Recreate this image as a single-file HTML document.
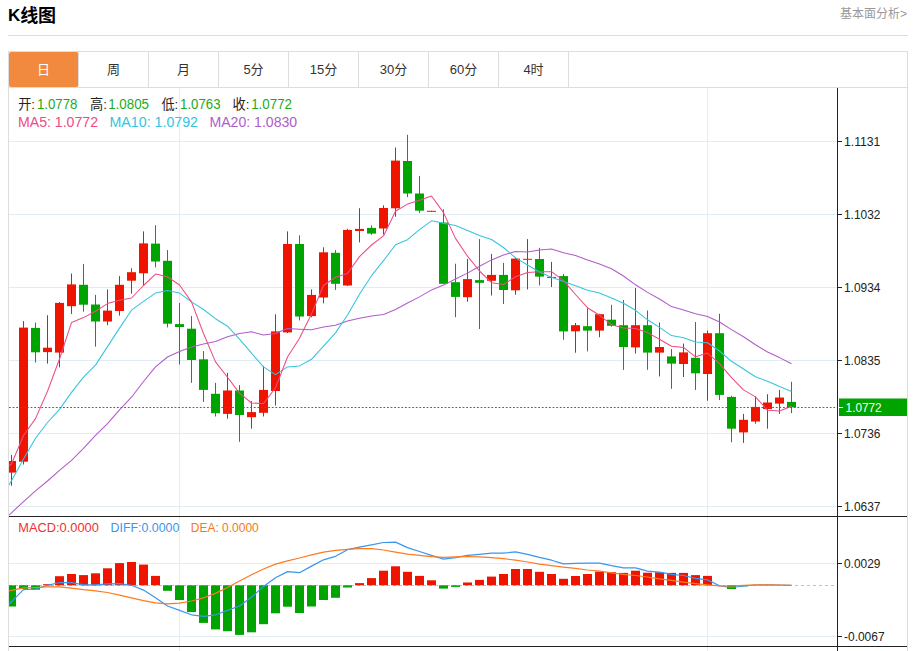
<!DOCTYPE html>
<html lang="zh-CN"><head><meta charset="utf-8"><title>K线图</title>
<style>
html,body{margin:0;padding:0;background:#fff;}
body{width:916px;height:651px;position:relative;overflow:hidden;font-family:"Liberation Sans","Noto Sans CJK SC",sans-serif;color:#333;}
.title{position:absolute;left:8px;top:4px;font-size:18px;line-height:24px;font-weight:bold;color:#000;letter-spacing:-0.1px;}
.more{position:absolute;right:9px;top:6px;font-size:12px;line-height:16px;color:#999;}
.hr{position:absolute;left:8px;top:35px;width:900px;height:1px;background:#ddd;}
.tabs{position:absolute;left:8px;top:51px;width:898px;height:35px;border:1px solid #ddd;background:#fff;}
.tabs span{position:absolute;top:0;height:35px;width:69px;border-right:1px solid #ddd;text-align:center;font-size:13px;line-height:35px;color:#333;}
.tabs span.on{background:#f18a3e;color:#fff;border-radius:2px;}
.chart{position:absolute;left:0;top:88px;}
</style></head><body>
<div class="title"><span style="font-size:17px;position:relative;top:-1px">K</span>线图</div>
<div class="more">基本面分析&gt;</div>
<div class="hr"></div>
<div class="tabs">
<span style="left:0px" class=on>日</span>
<span style="left:70px">周</span>
<span style="left:140px">月</span>
<span style="left:210px">5分</span>
<span style="left:280px">15分</span>
<span style="left:350px">30分</span>
<span style="left:420px">60分</span>
<span style="left:490px">4时</span>
</div>
<svg class="chart" width="916" height="563" viewBox="0 88 916 563" font-family="Liberation Sans, Noto Sans CJK SC, sans-serif">
<defs><clipPath id="cm"><rect x="9" y="88" width="828" height="428"/></clipPath><clipPath id="cd"><rect x="9" y="517" width="828" height="129"/></clipPath></defs>
<g shape-rendering="crispEdges">
<rect x="8" y="88" width="1" height="563" fill="#ddd"/><rect x="907" y="88" width="1" height="563" fill="#ddd"/>
<rect x="9" y="141" width="828" height="1" fill="#e1ecf3"/>
<rect x="9" y="214" width="828" height="1" fill="#e1ecf3"/>
<rect x="9" y="287" width="828" height="1" fill="#e1ecf3"/>
<rect x="9" y="360" width="828" height="1" fill="#e1ecf3"/>
<rect x="9" y="433" width="828" height="1" fill="#e1ecf3"/>
<rect x="9" y="506" width="828" height="1" fill="#e1ecf3"/>
<rect x="9" y="563" width="828" height="1" fill="#e1ecf3"/>
<rect x="9" y="636" width="828" height="1" fill="#e1ecf3"/>
<rect x="179" y="88" width="1" height="563" fill="#e1ecf3"/>
<rect x="707" y="88" width="1" height="563" fill="#e1ecf3"/>
</g>
<line x1="9" y1="585.5" x2="837" y2="585.5" stroke="#8fd0f0" stroke-width="1" stroke-dasharray="3,3" shape-rendering="crispEdges"/>
<g clip-path="url(#cd)">
<rect x="7" y="585.3" width="9" height="21.2" fill="#00a400"/>
<rect x="19" y="585.3" width="9" height="3.7" fill="#00a400"/>
<rect x="31" y="585.3" width="9" height="4.4" fill="#00a400"/>
<rect x="43" y="584.2" width="9" height="1.1" fill="#ef1400"/>
<rect x="55" y="576.2" width="9" height="9.1" fill="#ef1400"/>
<rect x="67" y="574.0" width="9" height="11.3" fill="#ef1400"/>
<rect x="79" y="575.1" width="9" height="10.2" fill="#ef1400"/>
<rect x="91" y="573.3" width="9" height="12.0" fill="#ef1400"/>
<rect x="103" y="568.3" width="9" height="17.0" fill="#ef1400"/>
<rect x="115" y="563.1" width="9" height="22.2" fill="#ef1400"/>
<rect x="127" y="562.0" width="9" height="23.3" fill="#ef1400"/>
<rect x="139" y="564.6" width="9" height="20.7" fill="#ef1400"/>
<rect x="151" y="575.9" width="9" height="9.4" fill="#ef1400"/>
<rect x="163" y="585.3" width="9" height="5.5" fill="#00a400"/>
<rect x="175" y="585.3" width="9" height="14.7" fill="#00a400"/>
<rect x="187" y="585.3" width="9" height="26.8" fill="#00a400"/>
<rect x="199" y="585.3" width="9" height="37.6" fill="#00a400"/>
<rect x="211" y="585.3" width="9" height="44.1" fill="#00a400"/>
<rect x="223" y="585.3" width="9" height="45.9" fill="#00a400"/>
<rect x="235" y="585.3" width="9" height="49.6" fill="#00a400"/>
<rect x="247" y="585.3" width="9" height="47.0" fill="#00a400"/>
<rect x="259" y="585.3" width="9" height="38.9" fill="#00a400"/>
<rect x="271" y="585.3" width="9" height="28.0" fill="#00a400"/>
<rect x="283" y="585.3" width="9" height="21.4" fill="#00a400"/>
<rect x="295" y="585.3" width="9" height="27.7" fill="#00a400"/>
<rect x="307" y="585.3" width="9" height="21.2" fill="#00a400"/>
<rect x="319" y="585.3" width="9" height="14.7" fill="#00a400"/>
<rect x="331" y="585.3" width="9" height="12.5" fill="#00a400"/>
<rect x="343" y="585.3" width="9" height="2.2" fill="#00a400"/>
<rect x="355" y="583.1" width="9" height="2.2" fill="#ef1400"/>
<rect x="367" y="578.1" width="9" height="7.2" fill="#ef1400"/>
<rect x="379" y="570.7" width="9" height="14.6" fill="#ef1400"/>
<rect x="391" y="566.3" width="9" height="19.0" fill="#ef1400"/>
<rect x="403" y="571.8" width="9" height="13.5" fill="#ef1400"/>
<rect x="415" y="575.9" width="9" height="9.4" fill="#ef1400"/>
<rect x="427" y="580.3" width="9" height="5.0" fill="#ef1400"/>
<rect x="439" y="585.3" width="9" height="3.3" fill="#00a400"/>
<rect x="451" y="585.3" width="9" height="1.6" fill="#00a400"/>
<rect x="463" y="582.5" width="9" height="2.8" fill="#ef1400"/>
<rect x="475" y="579.9" width="9" height="5.4" fill="#ef1400"/>
<rect x="487" y="576.6" width="9" height="8.7" fill="#ef1400"/>
<rect x="499" y="574.0" width="9" height="11.3" fill="#ef1400"/>
<rect x="511" y="569.0" width="9" height="16.3" fill="#ef1400"/>
<rect x="523" y="569.0" width="9" height="16.3" fill="#ef1400"/>
<rect x="535" y="571.8" width="9" height="13.5" fill="#ef1400"/>
<rect x="547" y="574.0" width="9" height="11.3" fill="#ef1400"/>
<rect x="559" y="578.8" width="9" height="6.5" fill="#ef1400"/>
<rect x="571" y="576.0" width="9" height="9.3" fill="#ef1400"/>
<rect x="583" y="574.0" width="9" height="11.3" fill="#ef1400"/>
<rect x="595" y="571.6" width="9" height="13.7" fill="#ef1400"/>
<rect x="607" y="572.2" width="9" height="13.1" fill="#ef1400"/>
<rect x="619" y="572.9" width="9" height="12.4" fill="#ef1400"/>
<rect x="631" y="570.7" width="9" height="14.6" fill="#ef1400"/>
<rect x="643" y="572.7" width="9" height="12.6" fill="#ef1400"/>
<rect x="655" y="572.2" width="9" height="13.1" fill="#ef1400"/>
<rect x="667" y="572.9" width="9" height="12.4" fill="#ef1400"/>
<rect x="679" y="572.9" width="9" height="12.4" fill="#ef1400"/>
<rect x="691" y="575.1" width="9" height="10.2" fill="#ef1400"/>
<rect x="703" y="575.9" width="9" height="9.4" fill="#ef1400"/>
<rect x="727" y="585.3" width="9" height="3.7" fill="#00a400"/>
<rect x="739" y="585.3" width="9" height="1.1" fill="#00a400"/>
</g>
<g clip-path="url(#cm)">
<rect x="11" y="455.0" width="1" height="30.7" fill="#ef1400"/>
<rect x="7" y="461.0" width="9" height="11.6" fill="#ef1400"/>
<rect x="23" y="321.1" width="1" height="143.4" fill="#ef1400"/>
<rect x="19" y="327.6" width="9" height="134.1" fill="#ef1400"/>
<rect x="35" y="322.6" width="1" height="39.9" fill="#00a400"/>
<rect x="31" y="327.9" width="9" height="24.4" fill="#00a400"/>
<rect x="47" y="315.2" width="1" height="48.4" fill="#ef1400"/>
<rect x="43" y="347.7" width="9" height="4.4" fill="#ef1400"/>
<rect x="59" y="302.0" width="1" height="65.3" fill="#ef1400"/>
<rect x="55" y="302.9" width="9" height="49.7" fill="#ef1400"/>
<rect x="71" y="273.5" width="1" height="40.4" fill="#ef1400"/>
<rect x="67" y="284.4" width="9" height="21.8" fill="#ef1400"/>
<rect x="83" y="263.9" width="1" height="47.8" fill="#00a400"/>
<rect x="79" y="284.8" width="9" height="19.9" fill="#00a400"/>
<rect x="95" y="294.9" width="1" height="51.7" fill="#00a400"/>
<rect x="91" y="304.5" width="9" height="17.0" fill="#00a400"/>
<rect x="107" y="289.4" width="1" height="35.8" fill="#ef1400"/>
<rect x="103" y="310.6" width="9" height="10.9" fill="#ef1400"/>
<rect x="119" y="276.1" width="1" height="39.5" fill="#ef1400"/>
<rect x="115" y="284.8" width="9" height="26.2" fill="#ef1400"/>
<rect x="131" y="268.3" width="1" height="25.3" fill="#ef1400"/>
<rect x="127" y="272.2" width="9" height="8.5" fill="#ef1400"/>
<rect x="143" y="231.4" width="1" height="54.1" fill="#ef1400"/>
<rect x="139" y="243.4" width="9" height="29.9" fill="#ef1400"/>
<rect x="155" y="225.2" width="1" height="42.2" fill="#00a400"/>
<rect x="151" y="243.6" width="9" height="17.9" fill="#00a400"/>
<rect x="167" y="250.1" width="1" height="77.3" fill="#00a400"/>
<rect x="163" y="260.8" width="9" height="62.9" fill="#00a400"/>
<rect x="179" y="303.0" width="1" height="61.5" fill="#00a400"/>
<rect x="175" y="324.1" width="9" height="2.9" fill="#00a400"/>
<rect x="191" y="316.1" width="1" height="66.7" fill="#00a400"/>
<rect x="187" y="328.7" width="9" height="31.3" fill="#00a400"/>
<rect x="203" y="351.1" width="1" height="50.8" fill="#00a400"/>
<rect x="199" y="359.3" width="9" height="30.6" fill="#00a400"/>
<rect x="215" y="382.9" width="1" height="33.6" fill="#00a400"/>
<rect x="211" y="393.8" width="9" height="19.4" fill="#00a400"/>
<rect x="227" y="372.8" width="1" height="45.9" fill="#ef1400"/>
<rect x="223" y="390.5" width="9" height="23.4" fill="#ef1400"/>
<rect x="239" y="385.1" width="1" height="56.7" fill="#00a400"/>
<rect x="235" y="390.5" width="9" height="24.5" fill="#00a400"/>
<rect x="251" y="401.2" width="1" height="27.5" fill="#ef1400"/>
<rect x="247" y="412.1" width="9" height="5.1" fill="#ef1400"/>
<rect x="263" y="365.9" width="1" height="50.6" fill="#ef1400"/>
<rect x="259" y="389.9" width="9" height="22.9" fill="#ef1400"/>
<rect x="275" y="314.3" width="1" height="91.3" fill="#ef1400"/>
<rect x="271" y="331.4" width="9" height="59.6" fill="#ef1400"/>
<rect x="287" y="231.4" width="1" height="101.7" fill="#ef1400"/>
<rect x="283" y="244.0" width="9" height="88.4" fill="#ef1400"/>
<rect x="299" y="235.3" width="1" height="85.1" fill="#00a400"/>
<rect x="295" y="244.0" width="9" height="72.5" fill="#00a400"/>
<rect x="311" y="289.4" width="1" height="27.8" fill="#ef1400"/>
<rect x="307" y="294.9" width="9" height="21.2" fill="#ef1400"/>
<rect x="323" y="247.3" width="1" height="56.1" fill="#ef1400"/>
<rect x="319" y="252.3" width="9" height="45.2" fill="#ef1400"/>
<rect x="335" y="250.1" width="1" height="39.8" fill="#00a400"/>
<rect x="331" y="252.8" width="9" height="31.0" fill="#00a400"/>
<rect x="347" y="228.8" width="1" height="57.2" fill="#ef1400"/>
<rect x="343" y="229.9" width="9" height="55.6" fill="#ef1400"/>
<rect x="359" y="208.2" width="1" height="34.2" fill="#ef1400"/>
<rect x="355" y="228.9" width="9" height="2.1" fill="#ef1400"/>
<rect x="371" y="225.4" width="1" height="9.4" fill="#00a400"/>
<rect x="367" y="227.9" width="9" height="5.7" fill="#00a400"/>
<rect x="383" y="205.3" width="1" height="29.2" fill="#ef1400"/>
<rect x="379" y="208.0" width="9" height="20.5" fill="#ef1400"/>
<rect x="395" y="147.5" width="1" height="69.2" fill="#ef1400"/>
<rect x="391" y="160.6" width="9" height="47.7" fill="#ef1400"/>
<rect x="407" y="134.8" width="1" height="62.3" fill="#00a400"/>
<rect x="403" y="161.0" width="9" height="32.5" fill="#00a400"/>
<rect x="419" y="175.9" width="1" height="37.0" fill="#00a400"/>
<rect x="415" y="193.5" width="9" height="17.2" fill="#00a400"/>
<rect x="431" y="210.8" width="1" height="1.0" fill="#ef1400"/>
<rect x="427" y="210.8" width="9" height="1.0" fill="#ef1400"/>
<rect x="443" y="209.3" width="1" height="74.5" fill="#00a400"/>
<rect x="439" y="222.5" width="9" height="61.3" fill="#00a400"/>
<rect x="455" y="263.7" width="1" height="53.5" fill="#00a400"/>
<rect x="451" y="282.2" width="9" height="14.7" fill="#00a400"/>
<rect x="467" y="258.9" width="1" height="42.8" fill="#ef1400"/>
<rect x="463" y="279.1" width="9" height="18.1" fill="#ef1400"/>
<rect x="479" y="239.1" width="1" height="89.9" fill="#00a400"/>
<rect x="475" y="280.1" width="9" height="2.7" fill="#00a400"/>
<rect x="491" y="253.9" width="1" height="41.6" fill="#ef1400"/>
<rect x="487" y="274.9" width="9" height="5.9" fill="#ef1400"/>
<rect x="503" y="262.8" width="1" height="41.2" fill="#00a400"/>
<rect x="499" y="274.9" width="9" height="15.1" fill="#00a400"/>
<rect x="515" y="257.5" width="1" height="37.2" fill="#ef1400"/>
<rect x="511" y="258.6" width="9" height="31.7" fill="#ef1400"/>
<rect x="527" y="239.1" width="1" height="50.3" fill="#ef1400"/>
<rect x="523" y="258.8" width="9" height="1.0" fill="#ef1400"/>
<rect x="539" y="247.8" width="1" height="37.6" fill="#00a400"/>
<rect x="535" y="259.0" width="9" height="17.6" fill="#00a400"/>
<rect x="551" y="261.9" width="1" height="25.1" fill="#ef1400"/>
<rect x="547" y="276.9" width="9" height="1.0" fill="#ef1400"/>
<rect x="563" y="273.9" width="1" height="65.8" fill="#00a400"/>
<rect x="559" y="276.1" width="9" height="55.3" fill="#00a400"/>
<rect x="575" y="323.0" width="1" height="29.7" fill="#ef1400"/>
<rect x="571" y="325.2" width="9" height="6.1" fill="#ef1400"/>
<rect x="587" y="308.1" width="1" height="43.3" fill="#00a400"/>
<rect x="583" y="326.2" width="9" height="4.4" fill="#00a400"/>
<rect x="599" y="313.8" width="1" height="23.4" fill="#ef1400"/>
<rect x="595" y="314.2" width="9" height="16.4" fill="#ef1400"/>
<rect x="611" y="304.8" width="1" height="21.9" fill="#00a400"/>
<rect x="607" y="319.7" width="9" height="6.1" fill="#00a400"/>
<rect x="623" y="300.0" width="1" height="69.9" fill="#00a400"/>
<rect x="619" y="325.2" width="9" height="21.8" fill="#00a400"/>
<rect x="635" y="288.0" width="1" height="65.5" fill="#ef1400"/>
<rect x="631" y="325.2" width="9" height="22.2" fill="#ef1400"/>
<rect x="647" y="310.5" width="1" height="59.3" fill="#00a400"/>
<rect x="643" y="325.2" width="9" height="27.4" fill="#00a400"/>
<rect x="659" y="322.6" width="1" height="53.8" fill="#ef1400"/>
<rect x="655" y="347.0" width="9" height="5.6" fill="#ef1400"/>
<rect x="671" y="349.0" width="1" height="39.8" fill="#00a400"/>
<rect x="667" y="356.4" width="9" height="7.2" fill="#00a400"/>
<rect x="683" y="343.6" width="1" height="33.4" fill="#ef1400"/>
<rect x="679" y="352.4" width="9" height="11.6" fill="#ef1400"/>
<rect x="695" y="322.0" width="1" height="67.9" fill="#00a400"/>
<rect x="691" y="357.8" width="9" height="15.5" fill="#00a400"/>
<rect x="707" y="330.5" width="1" height="70.3" fill="#ef1400"/>
<rect x="703" y="333.2" width="9" height="40.8" fill="#ef1400"/>
<rect x="719" y="313.8" width="1" height="86.3" fill="#00a400"/>
<rect x="715" y="333.2" width="9" height="61.7" fill="#00a400"/>
<rect x="731" y="395.8" width="1" height="46.5" fill="#00a400"/>
<rect x="727" y="396.9" width="9" height="31.8" fill="#00a400"/>
<rect x="743" y="413.9" width="1" height="29.0" fill="#ef1400"/>
<rect x="739" y="419.8" width="9" height="12.6" fill="#ef1400"/>
<rect x="755" y="396.4" width="1" height="27.3" fill="#ef1400"/>
<rect x="751" y="406.9" width="9" height="14.6" fill="#ef1400"/>
<rect x="767" y="394.2" width="1" height="34.5" fill="#ef1400"/>
<rect x="763" y="402.5" width="9" height="6.6" fill="#ef1400"/>
<rect x="779" y="389.9" width="1" height="24.0" fill="#ef1400"/>
<rect x="775" y="397.5" width="9" height="6.1" fill="#ef1400"/>
<rect x="791" y="381.8" width="1" height="31.4" fill="#00a400"/>
<rect x="787" y="401.9" width="9" height="5.4" fill="#00a400"/>
</g>
<polyline points="-0.5,524.0 11.5,512.8 23.5,501.6 35.5,490.9 47.5,481.0 59.5,470.4 71.5,460.3 83.5,448.3 95.5,435.4 107.5,423.6 119.5,409.9 131.5,397.2 143.5,381.5 155.5,366.9 167.5,357.0 179.5,351.4 191.5,346.9 203.5,344.0 215.5,341.6 227.5,336.8 239.5,333.5 251.5,331.8 263.5,335.1 275.5,333.5 287.5,328.5 299.5,329.2 311.5,329.8 323.5,327.0 335.5,325.2 347.5,320.9 359.5,318.3 371.5,316.1 383.5,314.4 395.5,309.5 407.5,303.0 419.5,296.9 431.5,289.9 443.5,285.1 455.5,279.0 467.5,273.1 479.5,266.2 491.5,259.9 503.5,254.9 515.5,251.4 527.5,251.9 539.5,249.9 551.5,249.0 563.5,252.8 575.5,255.4 587.5,260.1 599.5,264.0 611.5,268.8 623.5,276.0 635.5,284.8 647.5,292.4 659.5,299.0 671.5,306.6 683.5,309.9 695.5,313.8 707.5,316.4 719.5,322.0 731.5,329.6 743.5,336.8 755.5,344.8 767.5,352.0 779.5,357.6 791.5,363.7" fill="none" stroke="#b05cc8" stroke-width="1.05" stroke-linejoin="round" clip-path="url(#cm)"/>
<polyline points="-0.5,500.0 11.5,480.8 23.5,459.0 35.5,438.3 47.5,422.5 59.5,409.4 71.5,392.4 83.5,377.1 95.5,365.1 107.5,346.6 119.5,328.1 131.5,310.2 143.5,301.4 155.5,293.1 167.5,290.5 179.5,293.1 191.5,301.9 203.5,309.5 215.5,318.7 227.5,326.2 239.5,339.1 251.5,353.2 263.5,366.9 275.5,374.6 287.5,366.9 299.5,365.9 311.5,359.3 323.5,346.1 335.5,332.9 347.5,315.0 359.5,294.2 371.5,275.7 383.5,260.7 395.5,244.7 407.5,239.7 419.5,229.6 431.5,220.8 443.5,223.3 455.5,225.4 467.5,230.5 479.5,235.6 491.5,239.5 503.5,247.5 515.5,257.9 527.5,265.0 539.5,272.0 551.5,277.2 563.5,281.6 575.5,285.7 587.5,290.2 599.5,293.1 611.5,297.9 623.5,303.3 635.5,310.3 647.5,319.8 659.5,327.4 671.5,335.6 683.5,337.7 695.5,342.1 707.5,342.8 719.5,351.0 731.5,361.3 743.5,369.0 755.5,376.8 767.5,381.3 779.5,386.6 791.5,391.4" fill="none" stroke="#35c4de" stroke-width="1.05" stroke-linejoin="round" clip-path="url(#cm)"/>
<polyline points="-0.5,472.4 11.5,464.0 23.5,435.5 35.5,418.6 47.5,391.3 59.5,359.0 71.5,322.6 83.5,317.6 95.5,311.3 107.5,303.6 119.5,300.3 131.5,298.0 143.5,285.5 155.5,274.1 167.5,276.8 179.5,285.0 191.5,301.9 203.5,333.5 215.5,361.9 227.5,377.2 239.5,393.1 251.5,403.0 263.5,403.6 275.5,387.7 287.5,357.0 299.5,338.2 311.5,313.9 323.5,285.5 335.5,277.2 347.5,273.5 359.5,256.6 371.5,245.0 383.5,235.9 395.5,211.2 407.5,204.1 419.5,200.3 431.5,196.0 443.5,212.6 455.5,238.4 467.5,256.2 479.5,271.0 491.5,282.7 503.5,284.4 515.5,276.8 527.5,272.4 539.5,271.7 551.5,271.7 563.5,280.7 575.5,294.5 587.5,307.7 599.5,315.3 611.5,324.7 623.5,328.0 635.5,328.4 647.5,332.6 659.5,339.2 671.5,346.2 683.5,347.4 695.5,356.8 707.5,353.1 719.5,363.7 731.5,377.7 743.5,389.9 755.5,396.9 767.5,410.2 779.5,411.0 791.5,406.2" fill="none" stroke="#ee4c84" stroke-width="1.05" stroke-linejoin="round" clip-path="url(#cm)"/>
<polyline points="-0.5,612.0 11.5,601.7 23.5,589.7 35.5,589.0 47.5,585.3 59.5,582.5 71.5,582.7 83.5,584.9 95.5,584.9 107.5,583.8 119.5,583.6 131.5,585.3 143.5,590.1 155.5,597.8 167.5,606.0 179.5,610.4 191.5,614.8 203.5,616.3 215.5,614.8 227.5,610.4 239.5,606.0 251.5,597.3 263.5,586.4 275.5,577.7 287.5,571.6 299.5,572.7 311.5,566.1 323.5,559.8 335.5,556.3 347.5,549.7 359.5,547.1 371.5,544.9 383.5,542.5 395.5,542.1 407.5,547.6 419.5,551.5 431.5,555.4 443.5,559.1 455.5,557.6 467.5,555.4 479.5,554.3 491.5,553.2 503.5,553.2 515.5,551.9 527.5,554.3 539.5,557.4 551.5,560.2 563.5,563.9 575.5,563.3 587.5,563.1 599.5,563.1 611.5,565.7 623.5,567.9 635.5,567.9 647.5,571.1 659.5,572.2 671.5,574.4 683.5,575.5 695.5,578.3 707.5,579.9 719.5,585.8 731.5,587.5 743.5,586.0 755.5,585.0 767.5,584.8 779.5,585.0 791.5,585.3" fill="none" stroke="#3a96ee" stroke-width="1.2" stroke-linejoin="round" clip-path="url(#cd)"/>
<polyline points="-0.5,592.0 11.5,590.3 23.5,587.9 35.5,587.5 47.5,586.9 59.5,586.9 71.5,588.2 83.5,589.7 95.5,590.8 107.5,592.5 119.5,595.2 131.5,597.8 143.5,600.6 155.5,602.8 167.5,603.9 179.5,603.2 191.5,601.0 203.5,597.8 215.5,593.4 227.5,587.5 239.5,581.0 251.5,574.8 263.5,569.0 275.5,564.1 287.5,560.9 299.5,558.0 311.5,554.8 323.5,552.1 335.5,550.4 347.5,549.3 359.5,548.6 371.5,548.6 383.5,550.0 395.5,552.1 407.5,554.1 419.5,555.4 431.5,556.7 443.5,557.4 455.5,556.9 467.5,556.5 479.5,556.9 491.5,557.6 503.5,558.7 515.5,560.2 527.5,562.0 539.5,564.1 551.5,565.7 563.5,567.2 575.5,568.4 587.5,570.0 599.5,571.1 611.5,572.9 623.5,574.4 635.5,575.5 647.5,577.0 659.5,578.8 671.5,580.3 683.5,582.1 695.5,583.6 707.5,584.9 719.5,585.8 731.5,586.0 743.5,585.3 755.5,584.9 767.5,584.9 779.5,585.0 791.5,585.3" fill="none" stroke="#ff7a1e" stroke-width="1.2" stroke-linejoin="round" clip-path="url(#cd)"/>
<line x1="9" y1="407.5" x2="837" y2="407.5" stroke="#00a400" stroke-width="1" stroke-dasharray="1.8,1.8"/>
<g shape-rendering="crispEdges" fill="#222">
<rect x="837" y="88" width="1" height="563"/>
<rect x="9" y="516" width="898" height="1"/>
<rect x="9" y="646" width="898" height="1"/>
<rect x="838" y="141" width="4" height="1"/>
<rect x="838" y="214" width="4" height="1"/>
<rect x="838" y="287" width="4" height="1"/>
<rect x="838" y="360" width="4" height="1"/>
<rect x="838" y="433" width="4" height="1"/>
<rect x="838" y="506" width="4" height="1"/>
<rect x="838" y="563" width="4" height="1"/>
<rect x="838" y="636" width="4" height="1"/>
</g>
<text x="844" y="145.6" font-size="12.5" fill="#222" textLength="36.4" lengthAdjust="spacingAndGlyphs">1.1131</text>
<text x="844" y="218.6" font-size="12.5" fill="#222" textLength="36.4" lengthAdjust="spacingAndGlyphs">1.1032</text>
<text x="844" y="291.6" font-size="12.5" fill="#222" textLength="36.4" lengthAdjust="spacingAndGlyphs">1.0934</text>
<text x="844" y="364.6" font-size="12.5" fill="#222" textLength="36.4" lengthAdjust="spacingAndGlyphs">1.0835</text>
<text x="844" y="437.6" font-size="12.5" fill="#222" textLength="36.4" lengthAdjust="spacingAndGlyphs">1.0736</text>
<text x="844" y="510.6" font-size="12.5" fill="#222" textLength="36.4" lengthAdjust="spacingAndGlyphs">1.0637</text>
<text x="844" y="567.6" font-size="12.5" fill="#222" textLength="36.4" lengthAdjust="spacingAndGlyphs">0.0029</text>
<text x="844" y="640.6" font-size="12.5" fill="#222" textLength="40.6" lengthAdjust="spacingAndGlyphs">-0.0067</text>
<rect x="839" y="398.5" width="68" height="17.5" fill="#00a400"/>
<rect x="839" y="407" width="4" height="1" fill="#fff" shape-rendering="crispEdges"/>
<text x="845.6" y="412.1" font-size="12.5" fill="#fff" textLength="36" lengthAdjust="spacingAndGlyphs">1.0772</text>
<text x="18.2" y="108.5" font-size="13.5" fill="#222" textLength="16.8" lengthAdjust="spacingAndGlyphs">开:</text>
<text x="37.0" y="108.5" font-size="14" fill="#1aab1a" textLength="40.4" lengthAdjust="spacingAndGlyphs">1.0778</text>
<text x="90.0" y="108.5" font-size="13.5" fill="#222" textLength="16.8" lengthAdjust="spacingAndGlyphs">高:</text>
<text x="108.2" y="108.5" font-size="14" fill="#1aab1a" textLength="40.8" lengthAdjust="spacingAndGlyphs">1.0805</text>
<text x="161.4" y="108.5" font-size="13.5" fill="#222" textLength="16.8" lengthAdjust="spacingAndGlyphs">低:</text>
<text x="180.1" y="108.5" font-size="14" fill="#1aab1a" textLength="40.4" lengthAdjust="spacingAndGlyphs">1.0763</text>
<text x="232.5" y="108.5" font-size="13.5" fill="#222" textLength="16.8" lengthAdjust="spacingAndGlyphs">收:</text>
<text x="251.2" y="108.5" font-size="14" fill="#1aab1a" textLength="40.8" lengthAdjust="spacingAndGlyphs">1.0772</text>
<text x="18.0" y="126.6" font-size="14" fill="#ee4c84" textLength="80" lengthAdjust="spacingAndGlyphs">MA5: 1.0772</text>
<text x="109.5" y="126.6" font-size="14" fill="#35c4de" textLength="88.5" lengthAdjust="spacingAndGlyphs">MA10: 1.0792</text>
<text x="209.4" y="126.6" font-size="14" fill="#b05cc8" textLength="87.8" lengthAdjust="spacingAndGlyphs">MA20: 1.0830</text>
<text x="18.3" y="531.8" font-size="12.5" fill="#f03030" textLength="80.5" lengthAdjust="spacingAndGlyphs">MACD:0.0000</text>
<text x="110.6" y="531.8" font-size="12.5" fill="#3a96ee" textLength="68.8" lengthAdjust="spacingAndGlyphs">DIFF:0.0000</text>
<text x="190.8" y="531.8" font-size="12.5" fill="#f87820" textLength="68" lengthAdjust="spacingAndGlyphs">DEA: 0.0000</text>
</svg>
</body></html>
